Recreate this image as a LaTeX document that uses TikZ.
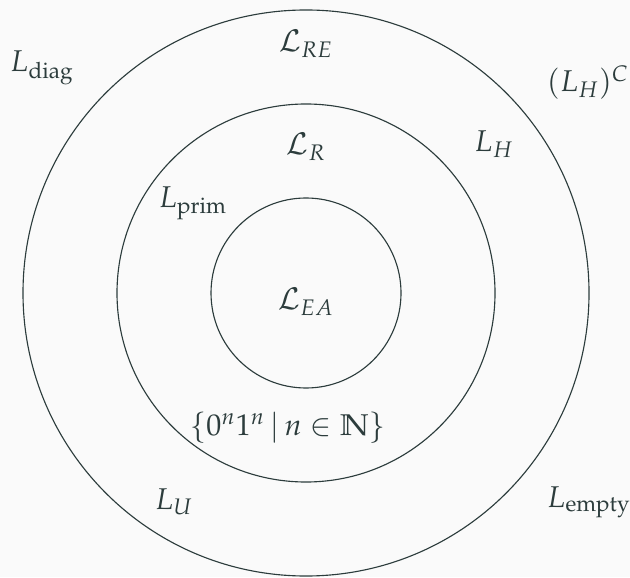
\documentclass[tikz,border=0pt]{standalone}
\usepackage{mathpazo}
\usepackage{amssymb}
\definecolor{ink}{RGB}{44,60,60}
\definecolor{bg}{RGB}{250,250,250}
\tikzset{
  ring/.style={circle,draw=ink,line width=0.45pt,inner sep=0pt},
  lab/.style={text=ink,anchor=base,inner sep=0pt,font=\fontsize{12}{14}\selectfont}
}
\begin{document}
\begin{tikzpicture}[x=0.4pt,y=-0.4pt]
\fill[bg] (0,0) rectangle (630,577);
\useasboundingbox (0,0) rectangle (630,577);
\node[ring,minimum size=226.4pt] (outer) at (306,293) {};
\node[ring,minimum size=151.2pt] (middle) at (306,293) {};
\node[ring,minimum size=76pt] (inner) at (306,293) {};
\node[lab] (diag) at (42,72) {$L_{\mathrm{diag}}$};
\node[lab] (re) at (306,52) {$\mathcal{L}_{RE}$};
\node[lab] (hc) at (588,92) {$(L_H)^C$};
\node[lab] (h) at (494,152) {$L_H$};
\node[lab] (r) at (306,155) {$\mathcal{L}_R$};
\node[lab] (prim) at (193,208) {$L_{\mathrm{prim}}$};
\node[lab] (ea) at (306,310) {$\mathcal{L}_{EA}$};
\node[lab] (zo) at (288,435) {$\{0^n1^n\,|\,n\in\mathbb{N}\}$};
\node[lab] (u) at (174,509) {$L_U$};
\node[lab] (empty) at (589,507) {$L_{\mathrm{empty}}$};
\end{tikzpicture}
\end{document}
